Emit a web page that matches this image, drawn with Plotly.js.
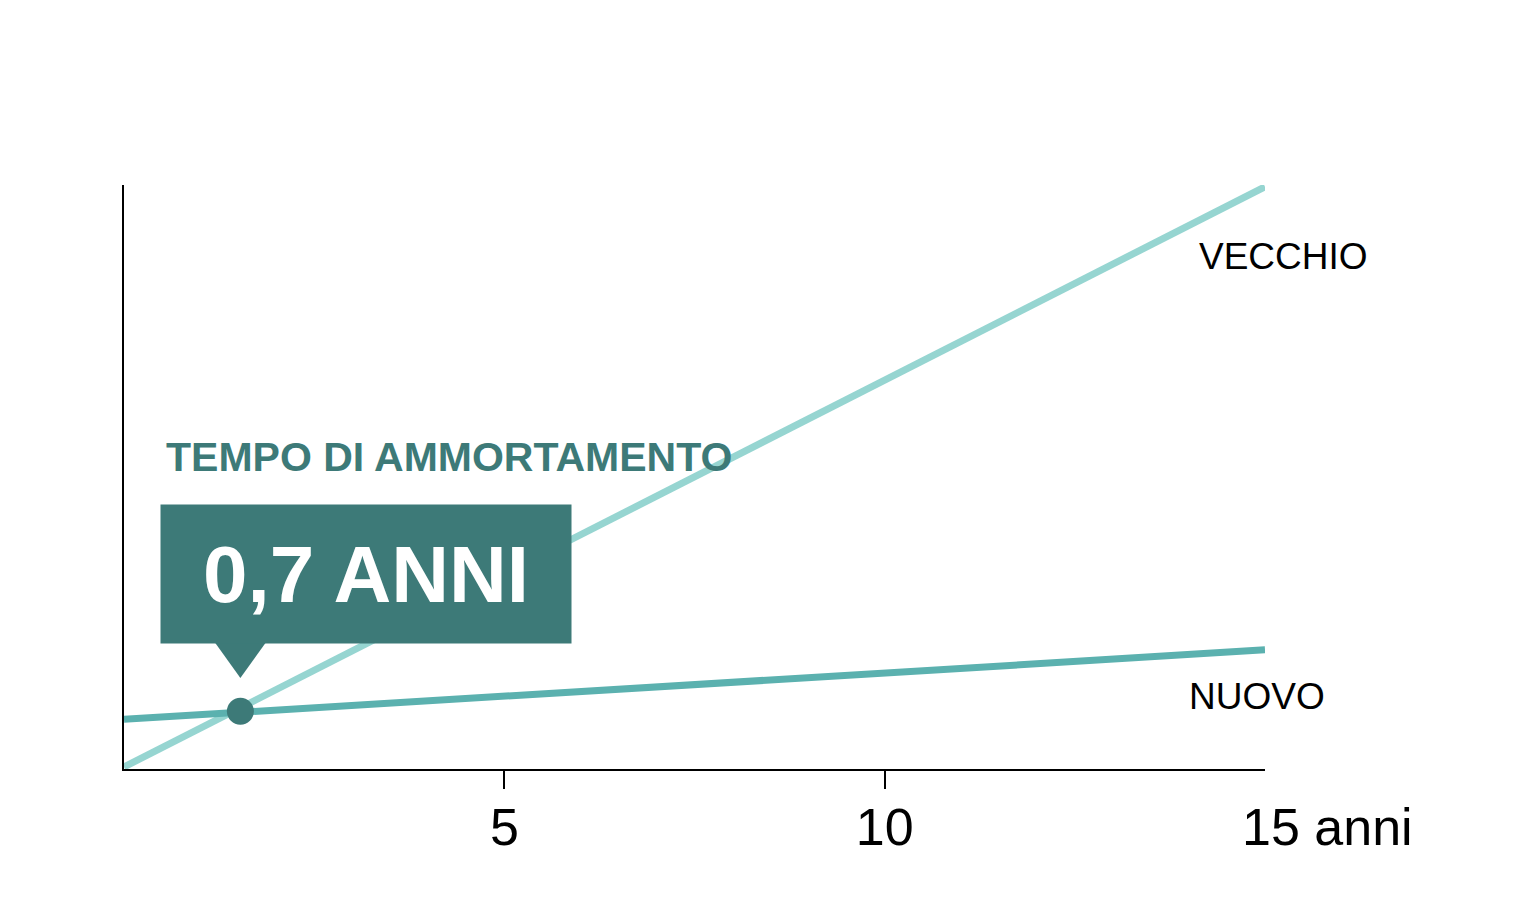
<!DOCTYPE html>
<html>
<head>
<meta charset="utf-8">
<script src="https://cdn.plot.ly/plotly-3.0.1.min.js"></script>
<style>
  html, body { margin: 0; padding: 0; background: #ffffff; }
  #chart { width: 1536px; height: 918px; }
</style>
</head>
<body>
<div id="chart"></div>
<script>
// ---- data ----
const years = [0, 15];
const vecchio = [0.35, 99.7];
const nuovo = [8.5, 20.4];
const paybackPoint = { x: [1.53], y: [9.9] };
const tickVals = [5, 10];
const tickText = ['5', '10'];
const lastTickLabel = '15 anni';
const labelVecchio = 'VECCHIO';
const labelNuovo = 'NUOVO';
const calloutTitle = 'TEMPO DI AMMORTAMENTO';
const calloutValue = '0,7 ANNI';

// ---- styles ----
const FONT = 'Liberation Sans, Arial, Helvetica, sans-serif';
const DARK = '#3d7a78';
const LIGHT = '#96d5d1';
const MID = '#5bb1af';

const px = paybackPoint.x[0], py = paybackPoint.y[0];

const traces = [
  { x: years, y: vecchio, mode: 'lines', line: { color: LIGHT, width: 7 }, hoverinfo: 'skip', showlegend: false },
  { x: years, y: nuovo, mode: 'lines', line: { color: MID, width: 7 }, hoverinfo: 'skip', showlegend: false },
  { x: paybackPoint.x, y: paybackPoint.y, mode: 'markers', marker: { color: DARK, size: 27 }, cliponaxis: false, hoverinfo: 'skip', showlegend: false }
];

const layout = {
  width: 1536, height: 918,
  margin: { l: 124, r: 271, t: 185, b: 149 },
  paper_bgcolor: '#ffffff', plot_bgcolor: '#ffffff',
  font: { family: FONT, color: '#000000' },
  xaxis: {
    range: [0, 15], showgrid: false, zeroline: false,
    showline: true, linecolor: '#000000', linewidth: 2,
    tickvals: tickVals, ticktext: tickText,
    ticks: 'outside', ticklen: 18, tickwidth: 2, tickcolor: '#000000',
    ticklabelstandoff: -6,
    tickfont: { family: FONT, size: 52, color: '#000000' },
    fixedrange: true
  },
  yaxis: {
    range: [0, 100], showgrid: false, zeroline: false,
    showline: true, linecolor: '#000000', linewidth: 2,
    showticklabels: false, ticks: '', fixedrange: true
  },
  shapes: [
    { type: 'path', xref: 'x', yref: 'y', layer: 'above',
      path: 'M ' + (px - 0.33) + ' ' + (py + 11.68) + ' L ' + (px + 0.33) + ' ' + (py + 11.68) + ' L ' + px + ' ' + (py + 5.68) + ' Z',
      fillcolor: DARK, line: { width: 0 } }
  ],
  annotations: [
    { x: px + 1.646, y: py + 23.5, xref: 'x', yref: 'y', text: '<b>' + calloutValue + '</b>',
      showarrow: false, xanchor: 'center', yanchor: 'middle',
      width: 410, height: 138, bgcolor: DARK, borderpad: 0,
      font: { family: FONT, size: 80, color: '#ffffff' } },
    { x: 0.52, y: 53.4, xref: 'x', yref: 'y', text: '<b>' + calloutTitle + '</b>',
      showarrow: false, xanchor: 'left', yanchor: 'middle',
      font: { family: FONT, size: 41, color: DARK } },
    { x: 14.1, y: 87.8, xref: 'x', yref: 'y', text: labelVecchio,
      showarrow: false, xanchor: 'left', yanchor: 'middle',
      font: { family: FONT, size: 37, color: '#000000' } },
    { x: 13.98, y: 12.5, xref: 'x', yref: 'y', text: labelNuovo,
      showarrow: false, xanchor: 'left', yanchor: 'middle',
      font: { family: FONT, size: 37, color: '#000000' } },
    { x: 14.67, y: -0.046, xref: 'x', yref: 'paper', text: lastTickLabel,
      showarrow: false, xanchor: 'left', yanchor: 'top',
      font: { family: FONT, size: 52, color: '#000000' } }
  ]
};

Plotly.newPlot('chart', traces, layout, { displayModeBar: false, staticPlot: true });
</script>
</body>
</html>
